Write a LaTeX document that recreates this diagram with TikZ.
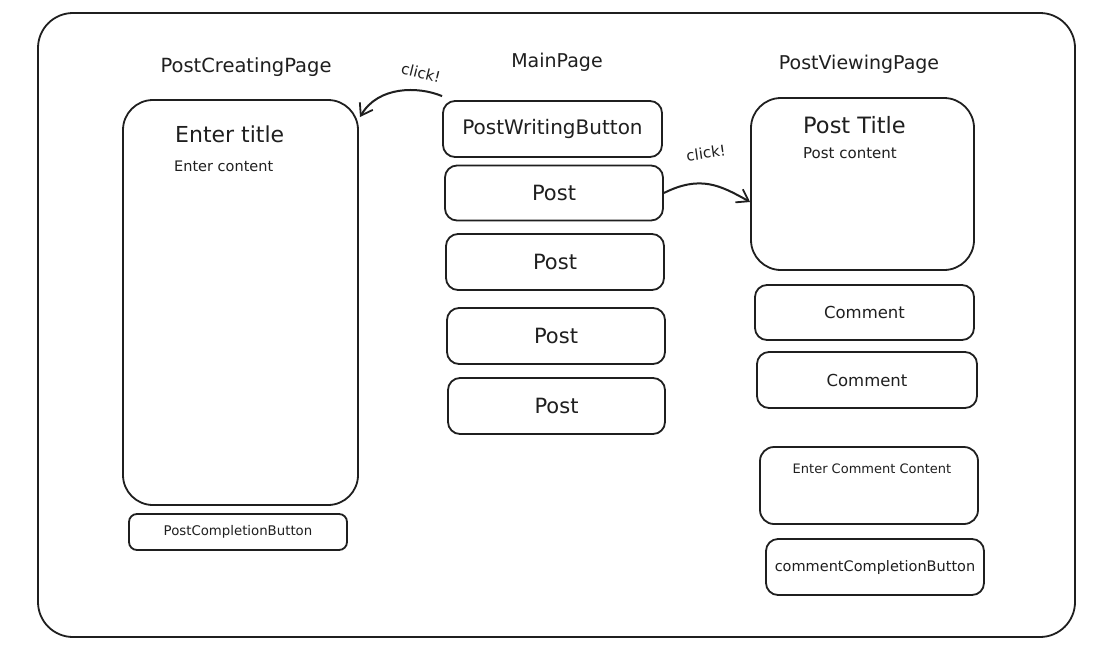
\documentclass[tikz,border=0pt]{standalone}
\usepackage{fontspec}
\setmainfont{DejaVu Sans}
\usetikzlibrary{arrows.meta}
\newcommand{\fs}[1]{\fontsize{#1}{#1}\selectfont}
\begin{document}
\begin{tikzpicture}[x=1pt,y=-1pt,
  frame/.style={draw=black!88,line width=1.8pt,rounded corners=#1},
  frame/.default=12pt,
  ink/.style={text=black!88,inner sep=0pt},
  conn/.style={draw=black!88,line width=2pt,-{Straight Barb[length=11pt,width=15pt,line width=1.8pt]}}
]
\useasboundingbox[fill=white] (0,0) rectangle (1094,651);
\draw[frame=35pt] (38,13) rectangle (1075,637);

% titles
\node[ink,font=\fs{19.5}] (tcreate) at (246,67) {PostCreatingPage};
\node[ink,font=\fs{19}] (tmain) at (557,62) {MainPage};
\node[ink,font=\fs{19}] (tview) at (859,64) {PostViewingPage};

% PostCreatingPage
\draw[frame=30pt] (123,100) rectangle (358,505);
\coordinate (createbox) at (360,117);
\node[ink,font=\fs{22},anchor=west] (etitle) at (175,134) {Enter title};
\node[ink,font=\fs{14.5},anchor=west] (econtent) at (174,166) {Enter content};
\node[frame=8pt,minimum width=218pt,minimum height=36pt,ink,font=\fs{13.3}] (pcb) at (238,532) {PostCompletionButton};

% MainPage
\node[frame=12pt,minimum width=219pt,minimum height=56pt,ink,font=\fs{20}] (pwb) at (552.5,129) {PostWritingButton};
\node[frame=12pt,minimum width=218pt,minimum height=55pt,ink,font=\fs{21}] (p1) at (554,193) {Post};
\node[frame=12pt,minimum width=218pt,minimum height=56pt,ink,font=\fs{21}] (p2) at (555,262) {Post};
\node[frame=12pt,minimum width=218pt,minimum height=56pt,ink,font=\fs{21}] (p3) at (556,336) {Post};
\node[frame=12pt,minimum width=217pt,minimum height=56pt,ink,font=\fs{21}] (p4) at (556.5,406) {Post};

% PostViewingPage
\node[frame=30pt,minimum width=223pt,minimum height=172pt] (viewbox) at (862.5,184) {};
\node[ink,font=\fs{22.5},anchor=west] (ptitle) at (803,125) {Post Title};
\node[ink,font=\fs{15},anchor=west] (pcontent) at (803,153) {Post content};
\node[frame=12pt,minimum width=219pt,minimum height=55pt,ink,font=\fs{16.5}] (c1) at (864.5,312.5) {Comment};
\node[frame=12pt,minimum width=220pt,minimum height=56pt,ink,font=\fs{16.5}] (c2) at (867,380) {Comment};
\draw[frame=14pt] (760,447) rectangle (978,524);
\node[ink,font=\fs{13}] (ecc) at (872,469) {Enter Comment Content};
\node[frame=12pt,minimum width=218pt,minimum height=56pt,ink,font=\fs{14.5}] (ccb) at (875,567) {commentCompletionButton};

% connectors
\draw[conn] (pwb.north west) ++(0,-4) .. controls (418,86) and (378,86) .. (createbox);
\node[ink,font=\fs{15}] (click1) at (421,73) [rotate=-14] {click!};
\draw[conn] (p1.east) .. controls (700,175) and (720,185) .. (viewbox.west |- 0,202);
\node[ink,font=\fs{15}] (click2) at (706,153) [rotate=8] {click!};
\end{tikzpicture}
\end{document}
